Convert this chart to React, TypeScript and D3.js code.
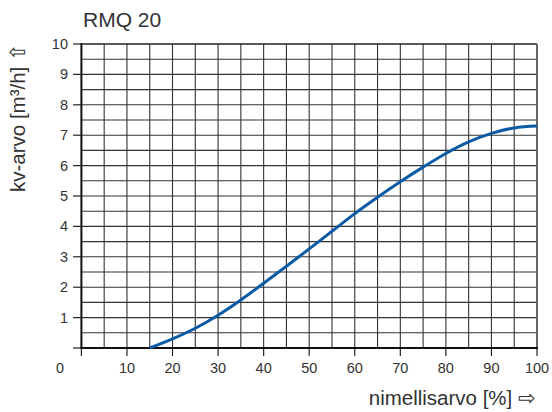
import * as d3 from "d3";
import React, { useEffect, useRef } from "react";

// kv-arvo vs nimellisarvo, RMQ 20
const openingPct = [15, 20, 25, 30, 35, 40, 45, 50, 55, 60, 65, 70, 75, 80, 85, 90, 95, 100];
const kvValues = [0, 0.3, 0.65, 1.08, 1.58, 2.13, 2.69, 3.26, 3.84, 4.42, 4.96, 5.47, 5.95, 6.4, 6.78, 7.06, 7.24, 7.3];
const xTicks = [10, 20, 30, 40, 50, 60, 70, 80, 90, 100];
const yTicks = [1, 2, 3, 4, 5, 6, 7, 8, 9, 10];

const W = 552;
const H = 412;
const font = "'Liberation Sans', Arial, sans-serif";

export default function App() {
  const ref = useRef<SVGSVGElement | null>(null);

  useEffect(() => {
    const svg = d3.select(ref.current);
    svg.selectAll("*").remove();

    const x = d3.scaleLinear().domain([0, 100]).range([81.4, 537]);
    const y = d3.scaleLinear().domain([0, 10]).range([348, 44]);

    const grid = svg.append("g").attr("stroke", "#333").attr("stroke-width", 1.1);
    grid
      .selectAll("line.v")
      .data(d3.range(5, 100, 5))
      .join("line")
      .attr("class", "v")
      .attr("x1", (d) => x(d))
      .attr("x2", (d) => x(d))
      .attr("y1", y(0))
      .attr("y2", y(10));
    grid
      .selectAll("line.h")
      .data(d3.range(0.5, 10, 0.5))
      .join("line")
      .attr("class", "h")
      .attr("x1", x(0))
      .attr("x2", x(100))
      .attr("y1", (d) => y(d))
      .attr("y2", (d) => y(d));

    // frame
    svg.append("line").attr("x1", x(0)).attr("x2", x(100)).attr("y1", y(10)).attr("y2", y(10))
      .attr("stroke", "#222").attr("stroke-width", 1.5);
    svg.append("line").attr("x1", x(100)).attr("x2", x(100)).attr("y1", y(0)).attr("y2", y(10))
      .attr("stroke", "#666").attr("stroke-width", 2);

    // ticks
    svg.append("g").attr("stroke", "#222").attr("stroke-width", 1.2)
      .selectAll("line")
      .data([0, ...yTicks])
      .join("line")
      .attr("x1", 73).attr("x2", x(0))
      .attr("y1", (d) => y(d)).attr("y2", (d) => y(d));
    svg.append("g").attr("stroke", "#222").attr("stroke-width", 1.2)
      .selectAll("line")
      .data([0, ...xTicks])
      .join("line")
      .attr("x1", (d) => x(d)).attr("x2", (d) => x(d))
      .attr("y1", y(0)).attr("y2", 356);

    // axes
    svg.append("line").attr("x1", x(0)).attr("x2", x(0)).attr("y1", y(0)).attr("y2", y(10) - 1)
      .attr("stroke", "#111").attr("stroke-width", 2);
    svg.append("line").attr("x1", x(0) - 1).attr("x2", x(100) + 1).attr("y1", y(0)).attr("y2", y(0))
      .attr("stroke", "#111").attr("stroke-width", 2);

    const line = d3
      .line<number>()
      .x((d, i) => x(openingPct[i]))
      .y((d) => y(d))
      .curve(d3.curveCatmullRom.alpha(0.5));

    svg.append("path")
      .attr("d", line(kvValues))
      .attr("fill", "none")
      .attr("stroke", "#0b5aa6")
      .attr("stroke-width", 3);

    // labels
    const lab = svg.append("g").attr("font-family", font).attr("fill", "#333").attr("font-size", 14.5);
    lab.selectAll("text.y")
      .data(yTicks)
      .join("text")
      .attr("class", "y")
      .attr("x", 68)
      .attr("y", (d) => y(d) + 5)
      .attr("text-anchor", "end")
      .text((d) => d);
    lab.selectAll("text.x")
      .data(xTicks)
      .join("text")
      .attr("class", "x")
      .attr("x", (d) => x(d))
      .attr("y", 373)
      .attr("text-anchor", "middle")
      .text((d) => d);
    lab.append("text").attr("x", 60).attr("y", 373).attr("text-anchor", "middle").text("0");

    svg.append("text")
      .attr("x", 83).attr("y", 27)
      .attr("font-family", font).attr("font-size", 21).attr("fill", "#333")
      .text("RMQ 20");

    svg.append("text")
      .attr("transform", "translate(25,192) rotate(-90)")
      .attr("font-family", font).attr("font-size", 20.5).attr("fill", "#333")
      .text("kv-arvo [m³/h] ⇧");

    svg.append("text")
      .attr("x", 536).attr("y", 405)
      .attr("text-anchor", "end")
      .attr("font-family", font).attr("font-size", 20.5).attr("fill", "#333")
      .text("nimellisarvo [%] ⇨");
  }, []);

  return (
    <svg
      ref={ref}
      width={W}
      height={H}
      style={{ position: "absolute", left: 0, top: 0, background: "#fff" }}
    />
  );
}
